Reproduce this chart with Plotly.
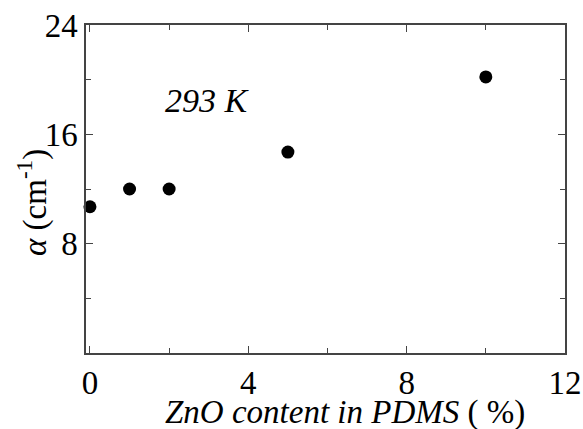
import plotly.graph_objects as go

zno_content = [0, 1, 2, 5, 10]
alpha_vals = [10.7, 12.0, 12.0, 14.7, 20.2]
x_ticks = [0, 4, 8, 12]
y_ticks = [0, 8, 16, 24]
y_tick_labels = ["", "8", "16", "24"]

FONT = "Liberation Serif, Times New Roman, serif"

W, H = 583, 429
L, R, T, B = 86, 18, 25, 76
PW, PH = W - L - R, H - T - B
Y0 = H - B   # y of plot bottom
X0 = L       # x of plot left

fig = go.Figure()
fig.add_trace(go.Scatter(
    x=zno_content, y=alpha_vals, mode="markers",
    marker=dict(color="black", size=13),
    cliponaxis=False, showlegend=False,
))

axis_common = dict(
    showgrid=False, zeroline=False, showline=True, linecolor="#444", linewidth=1.5,
    mirror="ticks", ticks="inside", ticklen=7, tickwidth=1, tickcolor="#444",
    tickfont=dict(family=FONT, size=33, color="black"), automargin=False,
    ticklabeloverflow="allow",
)
fig.update_xaxes(range=[-0.1, 12], tickvals=x_ticks,
                 minor=dict(tickvals=[2, 6, 10], ticks="inside", ticklen=5, tickcolor="#444"),
                 **axis_common)
fig.update_yaxes(range=[0, 24], tickvals=y_ticks, ticktext=y_tick_labels,
                 minor=dict(tickvals=[4, 12, 20], ticks="inside", ticklen=5, tickcolor="#444"),
                 **axis_common)

fig.add_annotation(text="<i>ZnO content in PDMS</i> ( %)", xref="paper", yref="paper",
                   x=(345 - X0) / PW, y=-(412 - Y0) / PH, showarrow=False,
                   font=dict(family=FONT, size=33, color="black"), xanchor="center", yanchor="middle")
fig.add_annotation(text="<i>α</i> (cm<sup>-1</sup>)", xref="paper", yref="paper",
                   x=-(X0 - 32) / PW, y=(Y0 - 203) / PH, showarrow=False, textangle=-90,
                   font=dict(family=FONT, size=33, color="black"), xanchor="center", yanchor="middle")
fig.add_annotation(text="<i>293 K</i>", x=2.97, y=18.5, showarrow=False,
                   font=dict(family=FONT, size=34, color="black"), xanchor="center", yanchor="middle")

fig.update_layout(
    width=W, height=H, plot_bgcolor="white", paper_bgcolor="white",
    margin=dict(l=L, r=R, t=T, b=B),
)
fig.write_html(
    "out.html",
    config={"displayModeBar": False},
    post_script="document.body.style.margin='0';document.body.style.overflow='hidden';",
)
